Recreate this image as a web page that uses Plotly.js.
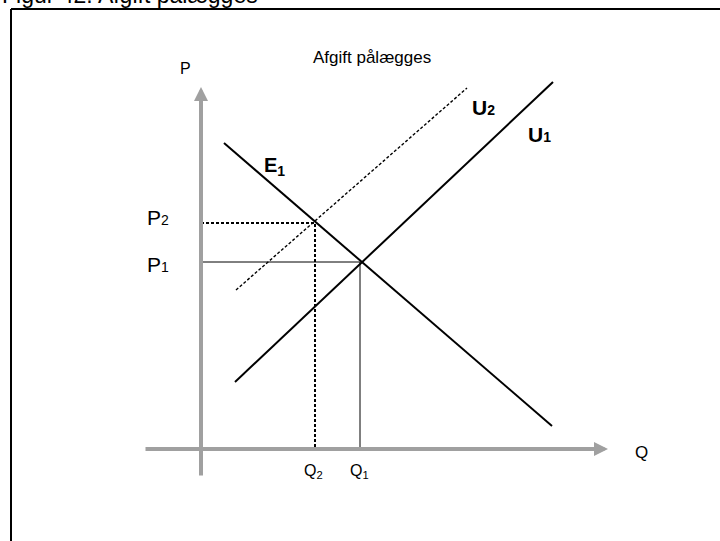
<!DOCTYPE html>
<html>
<head>
<meta charset="utf-8">
<script src="https://cdn.plot.ly/plotly-3.0.1.min.js"></script>
<style>html,body{margin:0;padding:0;background:#fff;}#chart{width:720px;height:541px;}</style>
</head>
<body>
<div id="chart"></div>
<script>
// Diagram values in (Q, P) units
const demandQ = [2.3, 35.1];
const demandP = [30.6, 2.3];
const supply1Q = [3.4, 35.2];
const supply1P = [6.7, 36.7];
const supply2Q = [3.5, 26.6];
const supply2P = [15.9, 36.1];
const eqQ = [15.9, 11.4];   // Q1, Q2
const eqP = [18.7, 22.6];   // P1, P2
const qAxisExtent = [-5.7, 40.7];
const pAxisExtent = [-2.8, 36.2];
const curveLabels = ['E<sub>1</sub>', 'U<span style="font-size:14px">2</span>', 'U<span style="font-size:14px">1</span>'];
const priceLabels = ['P<span style="font-size:14px">1</span>', 'P<span style="font-size:14px">2</span>'];
const qtyLabels = ['Q<sub>1</sub>', 'Q<sub>2</sub>'];
const chartTitle = 'Afgift pålægges';
const figureCaption = 'Figur 42. Afgift pålægges';

const FONT = 'Liberation Sans, Arial, sans-serif';
const gray = '#a0a0a0';

const traces = [
  {x: demandQ, y: demandP, mode: 'lines', line: {color: '#000', width: 2}},
  {x: supply1Q, y: supply1P, mode: 'lines', line: {color: '#000', width: 2}},
  {x: supply2Q, y: supply2P, mode: 'lines', line: {color: '#000', width: 1.4, dash: '3px,2px'}},
  // P1 / Q1 guides (solid thin)
  {x: [0, eqQ[0], eqQ[0]], y: [eqP[0], eqP[0], 0], mode: 'lines', line: {color: '#000', width: 1}},
  // P2 / Q2 guides (dashed)
  {x: [0, eqQ[1], eqQ[1]], y: [eqP[1], eqP[1], 0], mode: 'lines', line: {color: '#000', width: 2, dash: '3px,2px'}}
];

const annotations = [
  // axes with arrows
  {x: qAxisExtent[1], y: 0, ax: qAxisExtent[0], ay: 0, xref: 'x', yref: 'y', axref: 'x', ayref: 'y',
   showarrow: true, arrowhead: 2, arrowsize: 0.7, arrowwidth: 4, arrowcolor: gray, text: ''},
  {x: 0, y: pAxisExtent[1], ax: 0, ay: pAxisExtent[0], xref: 'x', yref: 'y', axref: 'x', ayref: 'y',
   showarrow: true, arrowhead: 2, arrowsize: 0.7, arrowwidth: 4, arrowcolor: gray, text: ''},
  {x: qAxisExtent[1] + 3.3, y: -0.3, text: 'Q', showarrow: false, font: {family: FONT, size: 17, color: '#000'}},
  {x: -1.6, y: 38.1, text: 'P', showarrow: false, font: {family: FONT, size: 16, color: '#000'}},
  // curve labels
  {x: 7.3, y: 28.3, text: curveLabels[0], showarrow: false, font: {family: FONT, size: 20, color: '#000', weight: 'bold'}},
  {x: 28.2, y: 34.2, text: curveLabels[1], showarrow: false, font: {family: FONT, size: 21, color: '#000', weight: 'bold'}},
  {x: 33.8, y: 31.5, text: curveLabels[2], showarrow: false, font: {family: FONT, size: 21, color: '#000', weight: 'bold'}},
  // price labels
  {x: -4.3, y: eqP[0] - 0.2, text: priceLabels[0], showarrow: false, font: {family: FONT, size: 21, color: '#000'}},
  {x: -4.3, y: eqP[1] + 0.6, text: priceLabels[1], showarrow: false, font: {family: FONT, size: 21, color: '#000'}},
  // quantity labels
  {x: eqQ[0] - 0.1, y: -2.2, text: qtyLabels[0], showarrow: false, font: {family: FONT, size: 16, color: '#000'}},
  {x: eqQ[1] - 0.2, y: -2.2, text: qtyLabels[1], showarrow: false, font: {family: FONT, size: 16, color: '#000'}},
  // title
  {x: 17.1, y: 39.2, text: chartTitle, showarrow: false, font: {family: FONT, size: 17, color: '#000'}},
  // caption cut off at top
  {xref: 'paper', yref: 'paper', x: 0, y: 1, xanchor: 'left', yanchor: 'bottom', yshift: -10,
   text: figureCaption, showarrow: false, font: {family: FONT, size: 23, color: '#000'}}
];

const layout = {
  width: 720, height: 541,
  margin: {l: 0, r: 0, t: 0, b: 0},
  paper_bgcolor: '#fff', plot_bgcolor: '#fff',
  showlegend: false,
  xaxis: {range: [-20.1, 51.9], visible: false, fixedrange: true},
  yaxis: {range: [-9.2, 44.9], visible: false, fixedrange: true},
  annotations: annotations,
  shapes: [
    {type: 'line', xref: 'paper', yref: 'paper', x0: 11/720, x1: 1, y0: 1 - 9/541, y1: 1 - 9/541, line: {color: '#000', width: 2}},
    {type: 'line', xref: 'paper', yref: 'paper', x0: 11/720, x1: 11/720, y0: 1 - 9/541, y1: 0, line: {color: '#000', width: 2}}
  ]
};

Plotly.newPlot('chart', traces, layout, {displayModeBar: false, staticPlot: true});
</script>
</body>
</html>
